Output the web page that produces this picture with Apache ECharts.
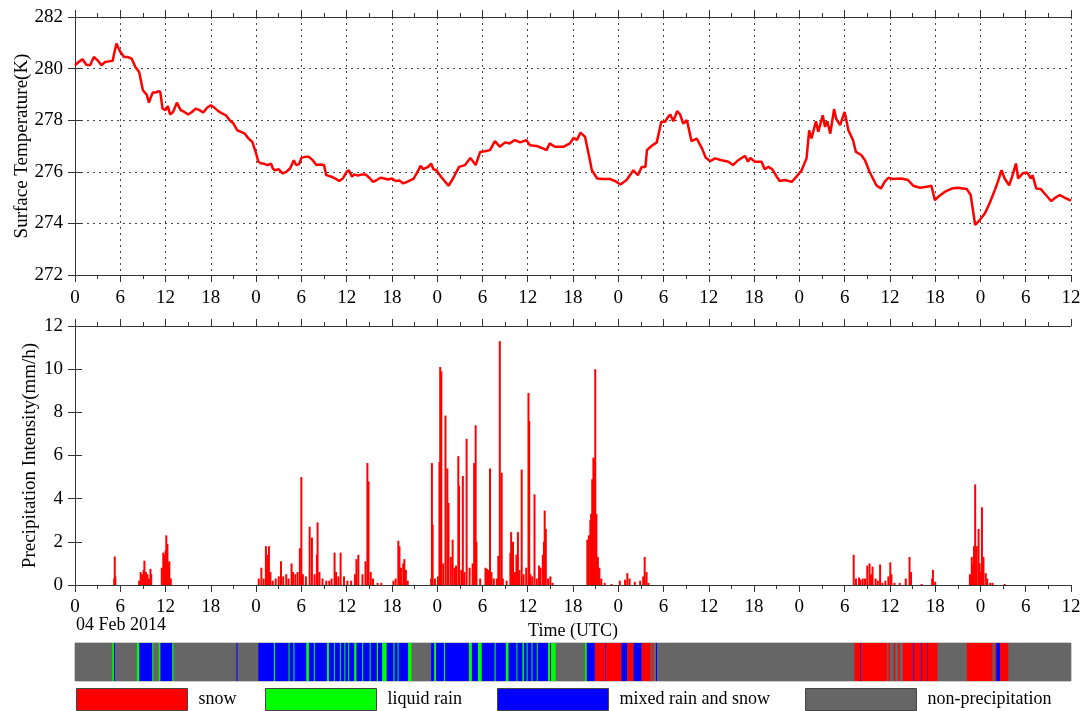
<!DOCTYPE html>
<html>
<head>
<meta charset="utf-8">
<script src="https://cdn.jsdelivr.net/npm/echarts@6/dist/echarts.min.js"></script>
<style>html,body{margin:0;padding:0;background:#fff}#c{width:1081px;height:711px}</style>
</head>
<body>
<div id="c"></div>
<script>
// ---- Surface temperature (hours since 04 Feb 2014 00 UTC, K) ----
const tempHours = [0,0.5,1,1.5,2,2.5,3,3.5,4,4.5,5,5.2,5.5,5.8,6,6.5,7,7.5,8,8.5,9,9.5,9.8,10,10.3,10.7,11,11.3,11.6,12,12.3,12.6,13,13.5,14,14.5,15,15.5,16,16.5,17,17.5,18,18.5,19,19.5,20,20.5,21,21.5,22,22.5,23,23.5,24,24.3,24.7,25,25.5,26,26.2,26.5,27,27.5,28,28.5,29,29.3,29.7,30,30.5,31,31.5,32,32.5,33,33.3,34,34.5,35,35.5,36,36.3,36.7,37,37.5,38,38.5,39,39.5,40,40.5,41,41.5,42,42.5,43,43.5,44,44.9,45.5,45.8,46.15,46.8,47.2,47.5,47.9,48.5,49.5,50.1,50.9,51.7,52.4,53.1,53.7,54.3,55,55.65,56.3,57,57.6,58.3,59,59.8,60.3,61.2,62.1,62.5,62.9,63.6,64.7,65.6,66.1,66.5,67,67.6,68.1,68.5,69.2,70,70.9,71.6,72.3,73.1,74,74.6,75.1,75.6,75.8,76.4,77.1,77.7,78.2,78.6,78.9,79.3,79.8,80.2,80.6,81.1,81.7,82.4,83.1,83.6,84.2,84.8,85.7,86.6,87.2,87.9,88.8,89.2,89.5,90.1,91,91.4,91.9,92.4,93,93.4,94.1,95,95.6,96.3,96.95,97.3,97.6,98.2,98.5,99.1,99.4,99.7,100.1,100.6,100.9,101.4,102,102.5,103.1,103.5,104.2,104.7,105.3,106.2,106.8,107.3,107.8,108.4,109.5,110.4,111.1,112,112.9,113.5,113.96,114.4,115.3,116.2,117,118.2,118.7,119,119.3,119.9,120.6,121.2,121.9,122.3,122.8,123.2,123.8,124.2,124.7,125,125.6,126.2,126.7,126.9,127.4,128,128.5,129.4,129.8,130.5,131.2,132];
const tempValues = [280.13,280.26,280.36,280.15,280.13,280.45,280.32,280.13,280.26,280.28,280.3,280.6,280.97,280.77,280.65,280.45,280.45,280.39,280.06,279.87,279.16,278.99,278.68,278.85,279.07,279.07,279.12,279.1,278.45,278.39,278.55,278.22,278.32,278.68,278.39,278.32,278.22,278.32,278.45,278.39,278.3,278.48,278.58,278.48,278.35,278.26,278.19,278.0,277.87,277.61,277.55,277.48,277.29,277.16,276.71,276.39,276.32,276.32,276.26,276.32,276.13,276.06,276.1,275.94,276.0,276.13,276.45,276.26,276.3,276.54,276.58,276.58,276.45,276.26,276.28,276.26,275.87,275.81,275.74,275.64,275.74,276.0,276.06,275.81,275.9,275.85,275.9,275.9,275.77,275.61,275.68,275.77,275.74,275.7,275.74,275.64,275.66,275.55,275.61,275.74,276.06,276.23,276.1,276.19,276.32,276.1,276.06,275.81,275.46,275.74,276.19,276.26,276.54,276.26,276.77,276.8,276.84,277.19,276.97,277.14,277.1,277.23,277.14,277.23,277.03,277.0,276.9,276.84,277.1,276.97,276.97,277.1,277.32,277.23,277.52,277.35,276.65,276.06,275.74,275.72,275.72,275.64,275.51,275.68,276.06,275.87,276.19,276.19,276.84,277.0,277.14,277.94,277.94,278.13,278.22,277.96,278.35,278.22,277.87,278.0,277.19,277.29,276.9,276.54,276.41,276.52,276.45,276.39,276.26,276.45,276.62,276.39,276.54,276.39,276.39,276.1,276.19,276.1,275.81,275.64,275.68,275.61,275.81,276.06,276.52,277.61,277.29,277.96,277.55,278.19,277.74,277.96,277.48,278.43,278.04,277.81,278.32,277.61,277.23,276.77,276.65,276.45,276.0,275.48,275.35,275.61,275.77,275.72,275.74,275.68,275.46,275.38,275.42,275.46,274.9,275.03,275.23,275.35,275.38,275.33,275.1,274.52,273.94,274.13,274.39,274.77,275.29,275.61,276.06,275.74,275.48,275.81,276.32,275.74,275.94,275.97,275.74,275.87,275.35,275.33,275.16,274.86,274.97,275.1,274.99,274.88];

// ---- Precipitation intensity (hours, mm/h) ----
const precipHours = [5.2,5.27,5.35,8.5,8.7,8.9,9.1,9.2,9.4,9.6,9.8,10.0,10.1,11.5,11.7,11.85,12.0,12.1,12.25,12.4,12.5,12.7,
24.35,24.7,25.0,25.3,25.5,25.7,25.9,26.2,26.6,27.0,27.3,27.6,28.0,28.3,28.7,28.9,29.2,29.5,29.8,30.0,30.2,30.6,31.1,31.4,31.75,32.06,32.15,32.4,32.8,33.3,33.7,34.0,34.4,34.6,34.9,35.2,35.65,36.1,36.6,37.1,37.3,37.55,38.1,38.5,38.75,38.9,39.2,39.5,40.1,40.6,42.2,42.5,42.85,43.0,43.2,43.5,43.65,43.85,44.1,
47.2,47.3,47.4,47.7,48.1,48.3,48.4,48.55,48.8,49.1,49.35,49.5,49.8,50.05,50.3,50.5,50.8,50.9,51.2,51.4,51.6,51.9,52.3,52.7,52.9,53.1,53.2,53.7,54.4,54.6,54.75,55.0,55.2,55.5,55.9,56.1,56.3,56.55,56.7,57.2,57.7,57.8,58.05,58.3,58.5,58.7,58.9,59.2,59.45,59.8,60.1,60.2,60.35,60.6,60.9,61.2,61.5,61.7,62.0,62.15,62.25,62.4,62.7,63.0,63.3,
67.9,68.1,68.3,68.4,68.55,68.7,68.85,68.95,69.1,69.3,69.5,69.75,70.2,71.1,72.2,72.9,73.2,73.5,74.2,74.9,75.3,75.5,75.75,76.0,
103.2,103.5,103.9,104.1,104.4,104.7,105.0,105.3,105.5,105.7,106.1,106.4,106.7,107.0,107.4,107.8,108.05,108.2,108.6,109.3,110.1,110.6,110.8,112.2,113.6,113.7,114.0,
118.6,118.7,118.85,119.0,119.15,119.3,119.5,119.75,119.9,120.05,120.2,120.4,120.7,120.9,121.3,121.6,123.2];
const precipValues = [0.3,1.32,0.4,0.2,0.6,0.5,0.7,1.13,0.6,0.5,0.3,0.75,0.5,0.8,1.5,1.4,1.6,2.3,1.9,1.0,1.1,0.3,
0.3,0.8,0.3,1.8,1.4,1.8,0.6,0.2,0.3,0.4,1.1,0.4,0.5,0.3,1.0,0.6,0.5,0.6,1.7,5.0,0.5,0.4,2.7,2.2,0.5,1.4,2.9,0.6,0.3,0.2,0.2,0.3,1.5,0.6,0.4,1.5,0.4,0.2,0.2,0.5,1.2,1.4,0.5,1.1,5.65,4.8,0.6,0.3,0.1,0.1,0.2,0.3,2.05,1.8,0.8,1.0,1.2,0.7,0.2,
0.3,5.65,2.8,0.3,0.4,5.7,10.1,9.9,1.0,7.85,5.4,3.8,1.3,2.1,0.8,0.9,5.97,4.6,0.7,5.05,0.6,6.77,0.8,1.0,5.65,7.4,2.0,0.3,0.8,0.75,0.7,5.4,0.6,0.3,0.3,1.35,11.3,5.2,0.3,0.2,1.5,2.45,2.0,0.6,1.4,2.45,0.7,5.35,0.5,0.8,8.9,7.6,0.5,0.4,4.2,0.3,0.9,0.8,1.4,2.0,3.45,2.6,0.3,0.4,0.1,
2.1,2.3,3.0,3.3,4.9,5.9,5.8,10.0,3.3,1.3,0.8,0.3,0.1,0.05,0.2,0.25,0.55,0.3,0.15,0.2,0.4,1.3,0.6,0.1,
1.4,0.3,0.35,0.25,0.3,0.3,0.9,1.0,0.5,0.85,0.3,0.2,0.95,0.1,0.2,0.4,1.05,0.5,0.1,0.1,0.3,1.3,0.6,0.05,0.3,0.7,0.15,
0.5,0.45,1.3,1.0,1.8,4.66,1.8,2.6,1.0,0.6,3.6,1.3,0.55,0.3,0.1,0.1,0.05];

// ---- Precipitation type segments (start hour, end hour) ----
const snowSegs = [[68.9,70.25],[70.35,72.4],[73.2,74.0],[75.1,76.3],[76.5,76.55],[103.3,104.05],[104.15,107.6],[107.8,108.0],[108.5,108.7],[109.1,109.3],[109.7,111.1],[111.25,112.15],[112.25,112.95],[113.05,114.3],[118.2,121.6],[121.9,122.0],[122.6,123.7]];
const rainSegs = [[4.95,5.15],[8.2,8.5],[10.25,10.35],[11.1,11.3],[12.9,13.05],
[26.35,26.5],[28.3,28.4],[28.95,29.05],[30.65,31.0],[31.65,31.75],[33.4,33.65],[34.3,34.4],[35.1,35.2],[35.7,35.8],[36.2,36.3],[37.0,37.3],[38.05,38.15],[39.05,39.15],[40.0,40.15],[40.7,41.3],[42.2,42.35],[42.75,42.85],[44.15,44.6],
[47.6,47.85],[48.9,49.0],[52.2,52.6],[53.4,53.9],[55.6,55.75],[57.1,57.45],[58.5,58.6],[59.3,59.5],[59.85,59.95],[60.5,60.6],[61.2,61.3],[62.7,62.95],[63.1,63.7],[67.6,67.8]];
const mixedSegs = [[5.15,5.3],[8.5,10.25],[11.3,12.9],[21.4,21.48],[24.3,44.15],[47.2,62.7],[62.95,63.1],[67.8,68.9],[70.25,70.35],[72.4,73.2],[74.0,75.1],[77.0,77.05],[104.05,104.15],[111.1,111.25],[112.15,112.25],[112.95,113.05],[122.1,122.6]];
const fullRange = [[0,132]];

const legendNames = ['snow','liquid rain','mixed rain and snow','non-precipitation'];
const typeColors = ['#ff0000','#00ff00','#0000ff','#666666'];

const FONT = 'Liberation Serif';
const chart = echarts.init(document.getElementById('c'), null, {renderer:'canvas'});

const tempData = tempHours.map((h,i)=>[h,tempValues[i]]);
const precipData = precipHours.map((h,i)=>[h,precipValues[i]]);

function xBottom(grid, showLabel, split, margin, name){
  return {gridIndex:grid, type:'value', min:0, max:132, interval:6, position:'bottom',
    axisLine:{show:true,onZero:false,lineStyle:{color:'#333',width:1}},
    axisTick:{show:true,inside:false,length:7,lineStyle:{color:'#333'}},
    minorTick:{show:true,splitNumber:2,length:4,lineStyle:{color:'#333'}},
    axisLabel:{show:showLabel,formatter:v=>String(v%24),fontFamily:FONT,fontSize:19,color:'#000',margin:margin},
    splitLine:{show:split,lineStyle:{type:[2,4],color:'#444',width:1}},
    name:name||'', nameLocation:'middle', nameGap:37, nameMoveOverlap:false,
    nameTextStyle:{fontFamily:FONT,fontSize:18,color:'#000'}};
}
function xTop(grid){
  return {gridIndex:grid, type:'value', min:0, max:132, interval:6, position:'top',
    axisLine:{show:true,onZero:false,lineStyle:{color:'#333'}},
    axisTick:{show:true,length:7,lineStyle:{color:'#333'}},
    minorTick:{show:true,splitNumber:2,length:4,lineStyle:{color:'#333'}},
    axisLabel:{show:false}, splitLine:{show:false}};
}
function yLeft(grid,min,max,name,split,gap){
  return {gridIndex:grid,type:'value',min:min,max:max,interval:2,position:'left',
    axisLine:{show:true,lineStyle:{color:'#333'}},
    axisTick:{show:true,length:7,lineStyle:{color:'#333'}},
    axisLabel:{fontFamily:FONT,fontSize:19,color:'#000',margin:12},
    splitLine:{show:split,lineStyle:{type:[2,4],color:'#444',width:1}},
    name:name,nameLocation:'middle',nameGap:gap,nameRotate:90,nameMoveOverlap:false,
    nameTextStyle:{fontFamily:FONT,fontSize:19,color:'#000'}};
}
function yRight(grid,min,max){
  return {gridIndex:grid,type:'value',min:min,max:max,interval:2,position:'right',
    axisLine:{show:true,lineStyle:{color:'#333'}},
    axisTick:{show:true,length:7,lineStyle:{color:'#333'}},
    axisLabel:{show:false},splitLine:{show:false}};
}

function segSeries(name,color,data){
  return {name:name,type:'custom',xAxisIndex:4,yAxisIndex:4,coordinateSystem:'cartesian2d',
    itemStyle:{color:color},
    encode:{x:[0,1]},
    data:data,
    renderItem:function(params,api){
      const s=api.coord([api.value(0),0]);
      const e=api.coord([api.value(1),1]);
      return {type:'rect',shape:{x:s[0],y:e[1],width:Math.max(e[0]-s[0],1),height:s[1]-e[1]},
        style:{fill:color}};
    }};
}

const legendLefts = [76,265,497,805];
const option = {
  animation:false,
  backgroundColor:'#fff',
  grid:[
    {left:75,top:17,width:996,height:258,outerBoundsMode:'none',containLabel:false},
    {left:75,top:326,width:996,height:259,outerBoundsMode:'none',containLabel:false},
    {left:75,top:643,width:996,height:38,show:true,borderColor:'#999',borderWidth:1,outerBoundsMode:'none',containLabel:false}
  ],
  xAxis:[
    xBottom(0,true,true,14), xTop(0),
    xBottom(1,true,false,13,'Time (UTC)'), xTop(1),
    {gridIndex:2,type:'value',min:0,max:132,show:false}
  ],
  yAxis:[
    yLeft(0,272,282,'Surface Temperature(K)',true,43), yRight(0,272,282),
    yLeft(1,0,12,'Precipitation Intensity(mm/h)',false,35), yRight(1,0,12),
    {gridIndex:2,type:'value',min:0,max:1,show:false}
  ],
  legend: legendNames.map((n,i)=>({
    left:legendLefts[i], top:688, padding:0, data:[n], icon:'rect', itemWidth:111, itemHeight:22,
    selectedMode:false,
    itemStyle:{borderColor:'#444',borderWidth:1},
    textStyle:{fontFamily:FONT,fontSize:18,color:'#000',padding:[0,0,0,6]}
  })),
  graphic:[
    {type:'text',left:76,top:616,style:{text:'04 Feb 2014',font:'18px "Liberation Serif"',fill:'#000'}}
  ],
  series:[
    {name:'Surface Temperature',type:'line',xAxisIndex:0,yAxisIndex:0,data:tempData,
      showSymbol:false,lineStyle:{color:'#ff0000',width:2.5},itemStyle:{color:'#ff0000'}},
    {name:'Precipitation',type:'bar',xAxisIndex:2,yAxisIndex:2,data:precipData,
      barWidth:2,itemStyle:{color:'#ff0000'}},
    segSeries('non-precipitation',typeColors[3],fullRange),
    segSeries('mixed rain and snow',typeColors[2],mixedSegs),
    segSeries('liquid rain',typeColors[1],rainSegs),
    segSeries('snow',typeColors[0],snowSegs)
  ]
};
chart.setOption(option);
</script>
</body>
</html>
